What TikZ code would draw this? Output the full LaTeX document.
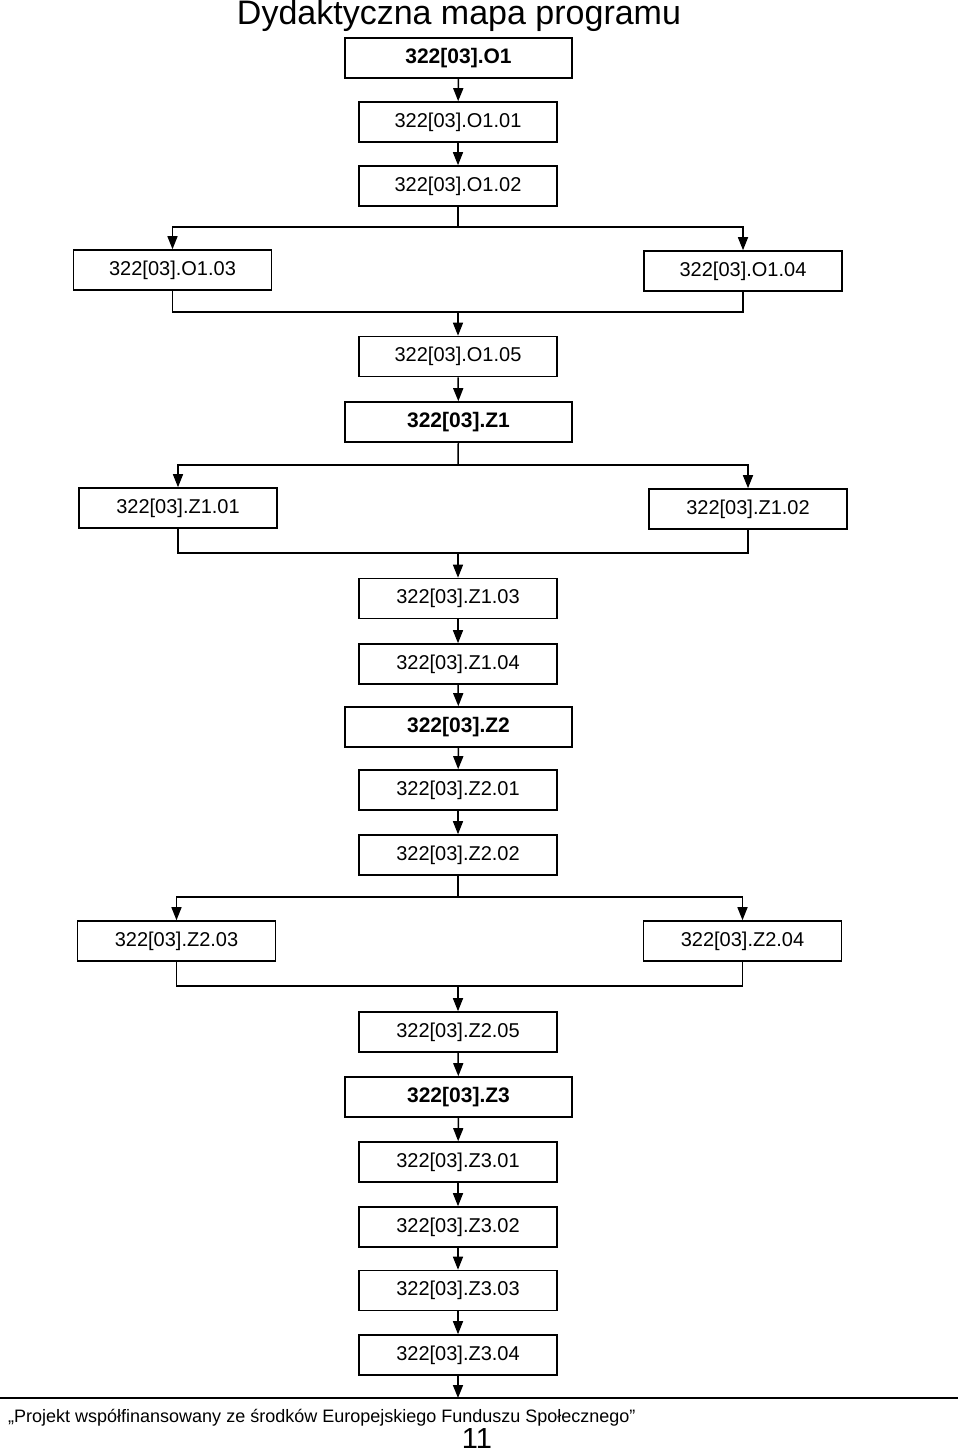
\documentclass[tikz,border=0pt]{standalone}
\usepackage{fontspec}
\setmainfont{Liberation Sans}
\usetikzlibrary{arrows.meta}
\tikzset{
  krok/.style={draw,line width=1.6pt,minimum width=198pt,minimum height=40pt,inner sep=0pt,font=\fontsize{20}{22}\selectfont},
  dzial/.style={krok,minimum width=227pt,font=\fontsize{21}{24}\selectfont\bfseries},
  strz/.style={line width=1.5pt,-{Triangle[width=10pt,length=13pt]}},
  lin/.style={line width=1.5pt}
}
\begin{document}
\begin{tikzpicture}[x=1pt,y=-1pt]
\useasboundingbox(0,0)rectangle(960,1453);
\node[font=\fontsize{34}{38}\selectfont](tytul)at(459,16){Dydaktyczna mapa programu};
% modul O1
\node[dzial](o1)at(458.5,58){322[03].O1};
\node[krok](o101)at(458,122){322[03].O1.01};
\node[krok](o102)at(458,186){322[03].O1.02};
\node[krok](o103)at(172.5,270){322[03].O1.03};
\node[krok](o104)at(743,271){322[03].O1.04};
\node[krok](o105)at(458,356.5){322[03].O1.05};
\draw[strz](o1)--(o101);
\draw[strz](o101)--(o102);
\coordinate(r1)at(458,227);
\draw[lin](o102)--(r1);
\draw[strz](r1)-|(o103);
\draw[strz](r1)-|(o104);
\coordinate(s1)at(458,312);
\draw[lin](o103)|-(s1);
\draw[lin](o104)|-(s1);
\draw[strz](s1)--(o105);
% modul Z1
\node[dzial](z1)at(458.5,422){322[03].Z1};
\node[krok](z101)at(178,508){322[03].Z1.01};
\node[krok](z102)at(748,509){322[03].Z1.02};
\node[krok](z103)at(458,598.5){322[03].Z1.03};
\node[krok](z104)at(458,664){322[03].Z1.04};
\draw[strz](o105)--(z1);
\coordinate(r2)at(458,465);
\draw[lin](z1)--(r2);
\draw[strz](r2)-|(z101);
\draw[strz](r2)-|(z102);
\coordinate(s2)at(458,553);
\draw[lin](z101)|-(s2);
\draw[lin](z102)|-(s2);
\draw[strz](s2)--(z103);
\draw[strz](z103)--(z104);
% modul Z2
\node[dzial](z2)at(458.5,727){322[03].Z2};
\node[krok](z201)at(458,790){322[03].Z2.01};
\node[krok](z202)at(458,855){322[03].Z2.02};
\node[krok](z203)at(176.5,941){322[03].Z2.03};
\node[krok](z204)at(742.5,941){322[03].Z2.04};
\node[krok](z205)at(458,1032){322[03].Z2.05};
\draw[strz](z104)--(z2);
\draw[strz](z2)--(z201);
\draw[strz](z201)--(z202);
\coordinate(r3)at(458,897);
\draw[lin](z202)--(r3);
\draw[strz](r3)-|(z203);
\draw[strz](r3)-|(z204);
\coordinate(s3)at(458,986);
\draw[lin](z203)|-(s3);
\draw[lin](z204)|-(s3);
\draw[strz](s3)--(z205);
% modul Z3
\node[dzial](z3)at(458.5,1097){322[03].Z3};
\node[krok](z301)at(458,1162){322[03].Z3.01};
\node[krok](z302)at(458,1227){322[03].Z3.02};
\node[krok](z303)at(458,1290.5){322[03].Z3.03};
\node[krok](z304)at(458,1355){322[03].Z3.04};
\draw[strz](z205)--(z3);
\draw[strz](z3)--(z301);
\draw[strz](z301)--(z302);
\draw[strz](z302)--(z303);
\draw[strz](z303)--(z304);
\coordinate(k)at(458,1398);
\draw[strz](z304)--(k);
% stopka
\draw[lin](0,1398)--(958,1398);
\node[anchor=base west,inner sep=0pt,font=\fontsize{18}{20}\selectfont](stopka)at(8,1422){„Projekt współfinansowany ze środków Europejskiego Funduszu Społecznego”};
\node[anchor=base,inner sep=0pt,font=\fontsize{29}{32}\selectfont](strona)at(477,1448){11};
\end{tikzpicture}
\end{document}
